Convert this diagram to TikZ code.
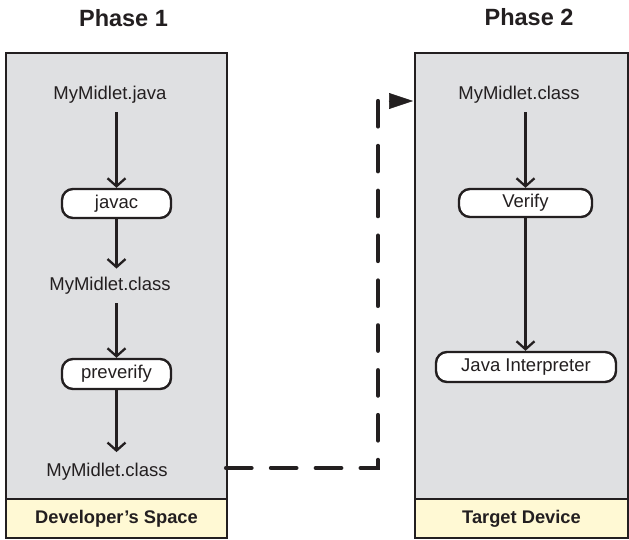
\documentclass[tikz,border=0pt]{standalone}
\usepackage{fontspec}
\setmainfont{Liberation Sans}
\usetikzlibrary{arrows.meta}
\definecolor{panelgray}{HTML}{DFE0E2}
\definecolor{bandyellow}{HTML}{FFF9D4}
\definecolor{ink}{HTML}{231F20}
\begin{document}
\begin{tikzpicture}[x=1pt,y=-1pt,
  every node/.style={font=\fontsize{18.5}{22}\selectfont, text=ink},
  phasetitle/.style={font=\bfseries\fontsize{23.5}{28}\selectfont, inner sep=0pt, anchor=base},
  txt/.style={inner sep=0pt, anchor=base},
  panel/.style={draw=ink, line width=2.5pt, fill=panelgray, anchor=north west, inner sep=0pt, outer sep=0pt},
  bandbox/.style={draw=ink, line width=2.5pt, fill=bandyellow, anchor=north west, inner sep=0pt, outer sep=0pt,
    font=\bfseries\fontsize{18.3}{22}\selectfont},
  proc/.style={draw=ink, line width=2.4pt, fill=white, rounded corners=11pt, inner sep=0pt},
  flow/.style={draw=ink, line width=2.3pt, -{Straight Barb[length=8pt,width=18pt]}},
  dashconn/.style={draw=ink, line width=4.2pt, line cap=round, dash pattern=on 25.5pt off 19.36pt},
  arrowhd/.style={draw=ink, fill=ink, line width=0.5pt, -{Triangle[length=24pt,width=16pt]}}
]
\useasboundingbox (0,0) rectangle (629,540);
\clip (0,0) rectangle (629,540);

% panels
\node[panel, minimum width=221pt, minimum height=446pt] (p1) at (6,53) {};
\node[bandbox, minimum width=221pt, minimum height=39pt] (b1) at (6,499) {Developer’s Space\hspace{18pt}};
\node[panel, minimum width=213pt, minimum height=446pt] (p2) at (415,53) {};
\node[bandbox, minimum width=213pt, minimum height=39pt] (b2) at (415,499) {Target Device\hspace{2pt}};

% titles
\node[phasetitle] (t1) at (123.5,26.7) {Phase 1};
\node[phasetitle] (t2) at (529,26) {Phase 2};

% phase 1
\node[txt] (jv) at (110,100) {MyMidlet.java};
\node[proc, minimum width=109pt, minimum height=29pt] (javac) at (116.5,203.5) {javac\hspace{6pt}};
\node[txt] (c1) at (110,290.7) {MyMidlet.class};
\node[proc, minimum width=109pt, minimum height=30pt] (prev) at (116.5,374) {preverify\hspace{7pt}};
\node[txt] (c2) at (107,476.7) {MyMidlet.class};

% phase 2
\node[txt] (rc) at (519,100) {MyMidlet.class};
\node[proc, minimum width=133pt, minimum height=28pt] (ver) at (525.5,203) {Verify\hspace{8pt}};
\node[proc, minimum width=180pt, minimum height=30pt] (interp) at (526,367) {Java Interpreter\hspace{16pt}};

% flow arrows
\draw[flow, shorten <=8pt] (jv.south -| javac.north) -- (javac.north);
\draw[flow, shorten >=8.5pt] (javac.south) -- (javac.south |- c1.north);
\draw[flow, shorten <=8.5pt] (c1.south -| prev.north) -- (prev.north);
\draw[flow, shorten >=11pt] (prev.south) -- (prev.south |- c2.north);
\draw[flow, shorten <=8pt] (rc.south -| ver.north) -- (ver.north);
\draw[flow] (ver.south) -- (ver.south |- interp.north);

% transfer connector
\coordinate (dtop) at (378,101);
\coordinate (dend) at (226,468);
\draw[dashconn] (dtop) |- (dend);
\coordinate (atail) at (388.5,101);
\draw[arrowhd, shorten >=2pt] (atail) -- (atail -| p2.west);
\end{tikzpicture}
\end{document}
